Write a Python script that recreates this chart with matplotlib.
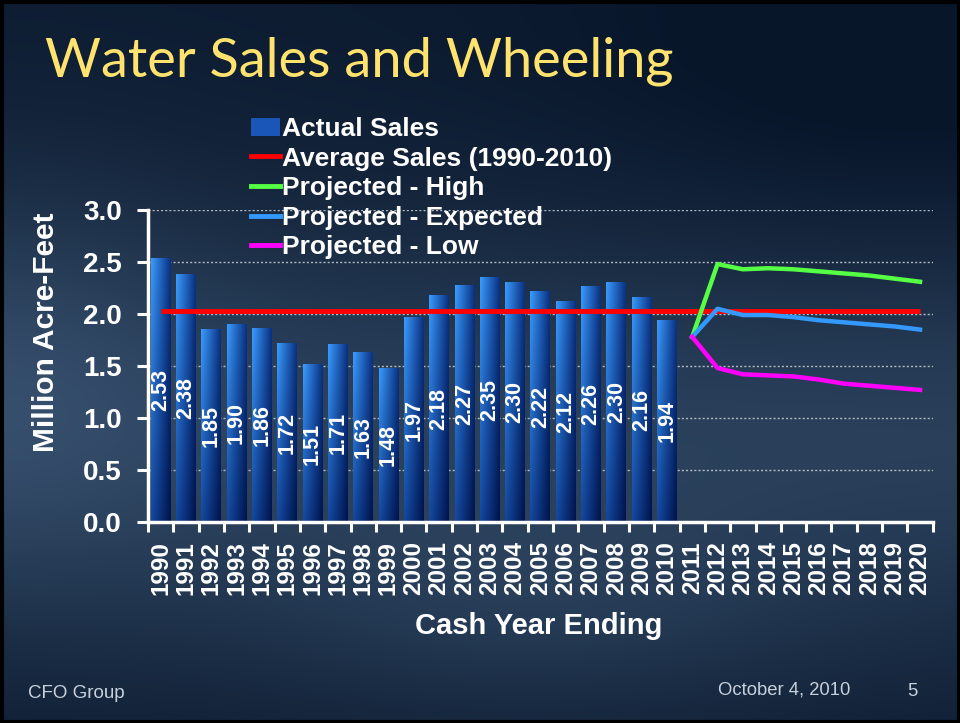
import numpy as np
import matplotlib
matplotlib.use("Agg")
import matplotlib.pyplot as plt
from matplotlib.patches import Patch, Rectangle
from matplotlib.lines import Line2D

# ---------------- data ----------------
years = [str(y) for y in range(1990, 2021)]
actual_years = [str(y) for y in range(1990, 2011)]
actual_sales = [2.53, 2.38, 1.85, 1.90, 1.86, 1.72, 1.51, 1.71, 1.63, 1.48, 1.97,
                2.18, 2.27, 2.35, 2.30, 2.22, 2.12, 2.26, 2.30, 2.16, 1.94]
proj_years = [str(y) for y in range(2011, 2021)]
proj_high = [1.78, 2.48, 2.43, 2.44, 2.43, 2.41, 2.39, 2.37, 2.34, 2.31]
proj_expected = [1.78, 2.05, 1.99, 1.99, 1.97, 1.94, 1.92, 1.90, 1.88, 1.85]
proj_low = [1.78, 1.48, 1.42, 1.41, 1.40, 1.37, 1.33, 1.31, 1.29, 1.27]
y_ticks = [0.0, 0.5, 1.0, 1.5, 2.0, 2.5, 3.0]
avg_label = "Average Sales (1990-2010)"

W, H = 960, 723
fig = plt.figure(figsize=(W / 100, H / 100), dpi=100)

# ---------------- background ----------------
bg = fig.add_axes([0, 0, 1, 1], zorder=0)
yy, xx = np.mgrid[0:H, 0:W]
xn = xx / W
yn = yy / H
t = (0.08
     + 0.50 * np.exp(-(((yn - 0.60) / 0.30) ** 2))
     + 0.22 * np.exp(-(((xn - 0.0) / 0.22) ** 2) - (((yn - 0.50) / 0.30) ** 2))
     + 0.20 * np.exp(-(((xn - 0.55) / 0.3) ** 2) - (((yn - 0.85) / 0.15) ** 2))
     - 0.15 * np.exp(-(((xn - 0.95) / 0.35) ** 2) - (((yn - 0.1) / 0.3) ** 2)))
t = np.clip(t, 0, 1)
dark = np.array([8, 22, 42]) / 255
light = np.array([66, 94, 126]) / 255
img = dark[None, None, :] * (1 - t[..., None]) + light[None, None, :] * t[..., None]
bg.imshow(img, extent=[0, W, H, 0], aspect="auto", interpolation="bilinear")
bg.set_xlim(0, W)
bg.set_ylim(H, 0)
bg.axis("off")
bg.add_patch(Rectangle((1.5, 1.5), W - 3, H - 3, fill=False, edgecolor="black", lw=3))

# ---------------- main axes ----------------
x0, x1, ytop, ybot = 148, 932.7, 210, 522
ax = fig.add_axes([x0 / W, 1 - ybot / H, (x1 - x0) / W, (ybot - ytop) / H], zorder=2)
ax.patch.set_alpha(0)

pos = {y: i for i, y in enumerate(years)}
bx = [pos[y] for y in actual_years]

# bar gradient
gw, gh = 64, 64
gx = np.linspace(0, 1, gw)[None, :, None]
gy = np.linspace(0, 1, gh)[:, None, None]  # 0 = top
TL = np.array([0x3a, 0x9c, 0xff]) / 255
TR = np.array([0x0a, 0x30, 0x80]) / 255
BL = np.array([0x14, 0x48, 0xa0]) / 255
BR = np.array([0x00, 0x14, 0x4c]) / 255
grad = (TL * (1 - gx) * (1 - gy) + TR * gx * (1 - gy) + BL * (1 - gx) * gy + BR * gx * gy)

bars = ax.bar(bx, actual_sales, width=0.78, color="#0d3a8a", zorder=2, label="Actual Sales")
for b, v in zip(bars, actual_sales):
    ax.imshow(grad, extent=[b.get_x(), b.get_x() + b.get_width(), 0, b.get_height()],
              aspect="auto", zorder=2.1, interpolation="bilinear")
    ax.text(b.get_x() + b.get_width() / 2, v / 2, f"{v:.2f}", rotation=90,
            ha="center", va="center", color="white", fontsize=15.5, fontweight="bold",
            family="Liberation Sans", zorder=3)

avg = float(np.mean(actual_sales))
ax.plot([0, len(years) - 1], [avg, avg], color="#ff0000", lw=3.5, zorder=4,
        solid_capstyle="butt")
px = [pos[y] for y in proj_years]
ax.plot(px, proj_high, color="#55ff44", lw=3.2, zorder=4)
ax.plot(px, proj_expected, color="#3399ff", lw=3.2, zorder=4)
ax.plot(px, proj_low, color="#ff00ff", lw=3.2, zorder=4)

ax.set_xlim(-0.5, len(years) - 0.5)
ax.set_ylim(0, 3.0)
ax.set_yticks(y_ticks)
ax.set_yticklabels([f"{v:.1f}" for v in y_ticks])
ax.set_xticks(range(len(years)))
ax.set_xticklabels(years, rotation=90)
ax.set_xticks(np.arange(-0.5, len(years)), minor=True)
ax.yaxis.grid(True, color="#b0b8c0", linestyle=(0, (1.5, 1.5)), linewidth=1)
ax.set_axisbelow(True)
for s in ["top", "right"]:
    ax.spines[s].set_visible(False)
for s in ["left", "bottom"]:
    ax.spines[s].set_color("white")
    ax.spines[s].set_linewidth(2.5)
    ax.spines[s].set_zorder(5)
ax.tick_params(axis="y", direction="out", length=8, width=2.2, color="white", pad=11,
               labelcolor="white", labelsize=20)
ax.tick_params(axis="x", which="major", length=0, pad=14, labelcolor="white", labelsize=17.5)
ax.tick_params(axis="x", which="minor", direction="out", length=7, width=2.2, color="white")
for lab in ax.get_xticklabels() + ax.get_yticklabels():
    lab.set_fontweight("bold")
    lab.set_family("Liberation Sans")

fig.text(539 / W, 1 - 626 / H, "Cash Year Ending", ha="center", va="center", color="white",
         fontsize=21, fontweight="bold", family="Liberation Sans")
fig.text(46 / W, 1 - 332 / H, "Million Acre-Feet", ha="center", va="center", rotation=90,
         color="white", fontsize=21.5, fontweight="bold", family="Liberation Sans")

handles = [Patch(facecolor="#1a56b8", edgecolor="none"),
           Line2D([], [], color="#ff0000", lw=3.5),
           Line2D([], [], color="#55ff44", lw=3.5),
           Line2D([], [], color="#3399ff", lw=3.5),
           Line2D([], [], color="#ff00ff", lw=3.5)]
labels = ["Actual Sales", avg_label, "Projected - High", "Projected - Expected", "Projected - Low"]
leg = fig.legend(handles, labels, loc="upper left", bbox_to_anchor=(238 / W, 1 - 104 / H),
                 frameon=False, borderpad=0, labelspacing=0.21, handlelength=1.1,
                 handletextpad=0.06, prop={"family": "Liberation Sans", "weight": "bold",
                                           "size": 19})
for tx in leg.get_texts():
    tx.set_color("white")
leg.set_zorder(6)

fig.text(45 / W, 1 - 77 / H, "Water Sales and Wheeling", ha="left", va="baseline",
         color="#ffe36e", fontsize=39, family="Lato")

fig.text(28 / W, 1 - 693 / H, "CFO Group", ha="left", va="center", color="#c8d0dc",
         fontsize=13.5, family="Liberation Sans")
fig.text(784 / W, 1 - 690 / H, "October 4, 2010", ha="center", va="center", color="#c8d0dc",
         fontsize=13.3, family="Liberation Sans")
fig.text(912 / W, 1 - 691 / H, "5", ha="center", va="center", color="#c8d0dc",
         fontsize=13.3, family="Liberation Sans")

fig.savefig("out.png", dpi=100)
